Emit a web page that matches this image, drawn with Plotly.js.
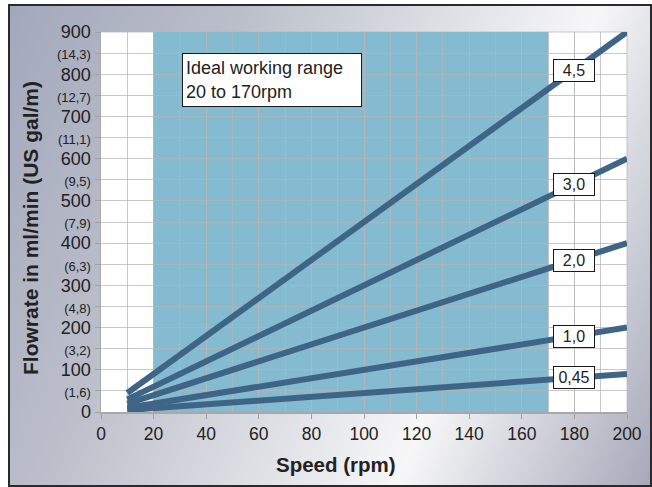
<!DOCTYPE html>
<html>
<head>
<meta charset="utf-8">
<script src="https://cdn.plot.ly/plotly-3.0.1.min.js"></script>
<style>
  html, body { margin:0; padding:0; background:#ffffff; }
  #frame {
    position:absolute; left:8px; top:4px; width:640px; height:479px;
    border:2px solid #2a2a2a;
    background: linear-gradient(113deg, #a2a8bc 0%, #bcbfca 28%, #e2e3e8 55%, #f7f7f8 70%, #dcdde3 80%, #a7a9b9 100%);
  }
  #chart { position:absolute; left:0; top:0; width:652px; height:487px; }
</style>
</head>
<body>
<div id="frame"></div>
<div id="chart"></div>
<script>
// ---- data ----
const speeds = [10, 200];
const seriesNames = ["4,5", "3,0", "2,0", "1,0", "0,45"];
const flow45 = [45, 900];
const flow30 = [30, 600];
const flow20 = [20, 400];
const flow10 = [10, 200];
const flow045 = [4.5, 90];
const allFlows = [flow45, flow30, flow20, flow10, flow045];
const labelSpeed = 180;
const idealStart = 20;
const idealEnd = 170;
const idealText = "Ideal working range<br>20 to 170rpm";
const yTickVals = [0, 50, 100, 150, 200, 250, 300, 350, 400, 450, 500, 550, 600, 650, 700, 750, 800, 850, 900];
const yMainLabels = ["0", "100", "200", "300", "400", "500", "600", "700", "800", "900"];
const yGalLabels = ["(1,6)", "(3,2)", "(4,8)", "(6,3)", "(7,9)", "(9,5)", "(11,1)", "(12,7)", "(14,3)"];
const xTickVals = [0, 20, 40, 60, 80, 100, 120, 140, 160, 180, 200];

// ---- build ----
const FONT = "Arial, 'Liberation Sans', sans-serif";
const lineColor = "#3f6586";
const traces = allFlows.map((f, i) => ({
  x: speeds, y: f, type: "scatter", mode: "lines", name: seriesNames[i],
  line: { color: lineColor, width: 6 }, hoverinfo: "skip", cliponaxis: false
}));

const yTickText = [];
for (let i = 0; i < yTickVals.length; i++) {
  if (i % 2 === 0) yTickText.push(yMainLabels[i / 2]);
  else yTickText.push('<span style="font-size:13px">' + yGalLabels[(i - 1) / 2] + '</span>');
}

function interp(xs, ys, x) {
  const t = (x - xs[0]) / (xs[1] - xs[0]);
  return ys[0] + t * (ys[1] - ys[0]);
}

const annotations = allFlows.map((f, i) => ({
  x: labelSpeed, y: interp(speeds, f, labelSpeed), xref: "x", yref: "y",
  text: seriesNames[i], showarrow: false,
  font: { family: FONT, size: 16, color: "#222" },
  bgcolor: "#ffffff", bordercolor: "#1a1a1a", borderwidth: 1, borderpad: 2,
  width: 36, height: 17, xanchor: "center", yanchor: "middle"
}));

annotations.push({
  x: 65, y: 786, xref: "x", yref: "y",
  text: idealText, showarrow: false, align: "left",
  font: { family: FONT, size: 18, color: "#222" },
  bgcolor: "#ffffff", bordercolor: "#1a1a1a", borderwidth: 1, borderpad: 3,
  width: 172, height: 46, xanchor: "center", yanchor: "middle"
});

const W = 652, H = 487, mL = 101, mR = 25, mT = 32, mB = 75;
const pw = W - mL - mR, ph = H - mT - mB;
function px2paper(px, py) { return { x: (px - mL) / pw, y: (H - mB - py) / ph }; }

const xt = px2paper(336, 465);
annotations.push({
  x: xt.x, y: xt.y, xref: "paper", yref: "paper", text: "<b>Speed (rpm)</b>", showarrow: false,
  xanchor: "center", yanchor: "middle",
  font: { family: FONT, size: 20.5, color: "#222" }
});
const yt = px2paper(30, 228);
annotations.push({
  x: yt.x, y: yt.y, xref: "paper", yref: "paper", text: "<b>Flowrate in ml/min (US gal/m)</b>",
  showarrow: false, textangle: -90, xanchor: "center", yanchor: "middle",
  font: { family: FONT, size: 21, color: "#222" }
});

const gridCol = "rgba(182,182,182,0.75)";
const layout = {
  width: W, height: H,
  margin: { l: mL, r: mR, t: mT, b: mB, pad: 0 },
  paper_bgcolor: "rgba(0,0,0,0)",
  plot_bgcolor: "#ffffff",
  showlegend: false,
  font: { family: FONT, color: "#222" },
  xaxis: {
    range: [0, 200], tickvals: xTickVals, ticks: "outside", ticklen: 5, tickcolor: "#a0a0a0",
    tickfont: { family: FONT, size: 17.5, color: "#222" }, showgrid: true, gridcolor: gridCol, gridwidth: 1,
    minor: { dtick: 10, showgrid: true, gridcolor: gridCol, gridwidth: 1, ticks: "" },
    showline: true, linecolor: "#a8a8a8", linewidth: 1.5, mirror: false, zeroline: false,
    fixedrange: true
  },
  yaxis: {
    range: [0, 900], tickvals: yTickVals, ticktext: yTickText, ticks: "outside", ticklen: 5,
    tickcolor: "#a0a0a0", tickfont: { family: FONT, size: 18, color: "#222" },
    showgrid: true, gridcolor: gridCol, gridwidth: 1,
    showline: true, linecolor: "#a8a8a8", linewidth: 1.5, zeroline: false, fixedrange: true
  },
  shapes: [
    { type: "rect", xref: "x", yref: "y", x0: idealStart, x1: idealEnd, y0: 0, y1: 900,
      fillcolor: "#85bbd0", line: { width: 0 }, layer: "below" },
    { type: "line", xref: "paper", yref: "paper", x0: 1, x1: 1, y0: 0, y1: 1,
      line: { color: gridCol, width: 1 }, layer: "below" },
    { type: "line", xref: "paper", yref: "paper", x0: 0, x1: 1, y0: 1, y1: 1,
      line: { color: gridCol, width: 1 }, layer: "below" }
  ],
  annotations: annotations
};

Plotly.newPlot("chart", traces, layout, { displayModeBar: false, staticPlot: true });
</script>
</body>
</html>
